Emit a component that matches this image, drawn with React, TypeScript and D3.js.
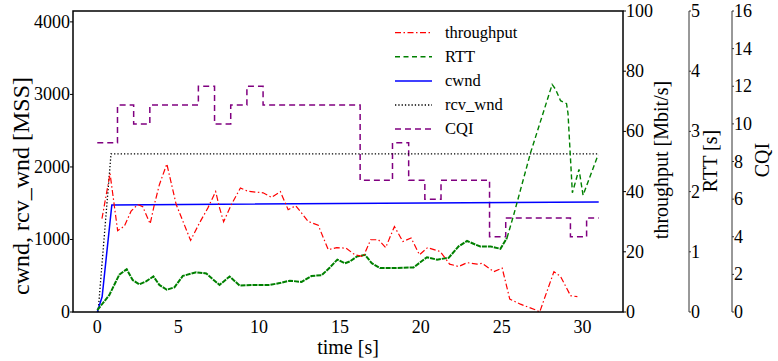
import React from "react";
import * as d3 from "d3";

const timeTicks = [0, 5, 10, 15, 20, 25, 30];
const cwndTicks = [0, 1000, 2000, 3000, 4000];
const tputTicks = [0, 20, 40, 60, 80, 100];
const rttTicks = [0, 1, 2, 3, 4, 5];
const cqiTicks = [0, 2, 4, 6, 8, 10, 12, 14, 16];

const throughput: [number, number][] = [
  [0.29, 31], [0.79, 46], [1.26, 27], [1.67, 28.5], [2.09, 33.5], [2.5, 35.7], [2.81, 35],
  [3.27, 29.3], [3.53, 35.7], [3.84, 42.3], [4.3, 49.2], [4.88, 35.7], [5.77, 23.8], [6.32, 29.6],
  [6.84, 34.6], [7.32, 40], [7.56, 34.6], [7.81, 30], [8.29, 35.7], [8.85, 41.2], [9.32, 40.1],
  [10.25, 39.6], [10.77, 38.1], [11.32, 40], [11.8, 34], [12.27, 35.3], [13.04, 30.1], [13.66, 28.8],
  [14.28, 20.7], [14.8, 21.4], [15.38, 21.2], [15.93, 19], [16.45, 18.4], [16.9, 24], [17.38, 24],
  [17.83, 21.4], [18.37, 28.4], [18.89, 23.4], [19.4, 24.6], [19.92, 19], [20.42, 21.4], [21.2, 20.1],
  [21.78, 15.9], [22.34, 15.1], [22.86, 16.4], [23.48, 15.9], [23.79, 16.2], [24.51, 13.4], [25.03, 14.6],
  [25.5, 4.3], [26.16, 2.6], [27.09, 0.7], [27.35, 0], [28.23, 13.4], [28.64, 11.8], [29.26, 5.4], [29.68, 5.1],
];

const rtt: [number, number][] = [
  [0, 0.03], [0.74, 0.28], [1.36, 0.62], [1.82, 0.71], [2.19, 0.53], [2.6, 0.46], [3.02, 0.51],
  [3.47, 0.59], [3.84, 0.45], [4.3, 0.37], [4.77, 0.41], [5.29, 0.6], [6.12, 0.66], [6.74, 0.64],
  [7.25, 0.52], [7.56, 0.45], [8.18, 0.59], [8.8, 0.44], [9.63, 0.45], [10.66, 0.45], [11.28, 0.48],
  [11.9, 0.52], [12.63, 0.5], [13.25, 0.6], [13.87, 0.61], [14.38, 0.74], [14.84, 0.87], [15.31, 0.81],
  [15.62, 0.84], [16.04, 0.92], [16.55, 0.95], [16.97, 0.81], [17.48, 0.73], [18.31, 0.73], [19.55, 0.74],
  [20.38, 0.91], [21, 0.87], [21.72, 0.9], [22.34, 1.09], [22.86, 1.18], [23.37, 1.12], [23.68, 1.09],
  [24.3, 1.09], [24.92, 1.05], [25.33, 1.23], [25.75, 1.62], [26.78, 2.64], [28.12, 3.78], [28.33, 3.7],
  [28.64, 3.51], [29.01, 3.46], [29.1, 3.3], [29.37, 1.98], [29.78, 2.37], [30.03, 1.94], [30.96, 2.61],
];

const cwnd: [number, number][] = [[0, 0], [0.3, 210], [0.9, 1476], [31, 1517]];
const rcvWnd: [number, number][] = [[0.05, 0], [0.85, 2180], [31, 2180]];

const cqi: [number, number][] = [
  [0, 9], [1.25, 11], [2.25, 10], [3.25, 11], [6.25, 12], [7.25, 10], [8.25, 11], [9.25, 12],
  [10.25, 11], [16.25, 7], [18.25, 9], [19.25, 7], [20.25, 6], [21.25, 7], [24.25, 4], [25.25, 5],
  [29.25, 4], [30.25, 5], [31, 5],
];

const legendItems = [
  { label: "throughput", color: "#ff0000", dash: "6,2.5,1.5,2.5", width: 1.2 },
  { label: "RTT", color: "#008000", dash: "5,3.5", width: 1.4 },
  { label: "cwnd", color: "#0000ff", dash: "", width: 1.5 },
  { label: "rcv_wnd", color: "#000000", dash: "1.3,2", width: 1.3 },
  { label: "CQI", color: "#800080", dash: "6,4", width: 1.5 },
];

const FONT = '"Liberation Serif", "Times New Roman", Times, "DejaVu Serif", serif';

export default function App() {
  const L = 73, R = 623, T = 11, B = 312;
  const x = d3.scaleLinear().domain([-1.5, 32.5]).range([L, R]);
  const yW = d3.scaleLinear().domain([0, 4150]).range([B, T]);
  const yT = d3.scaleLinear().domain([0, 100]).range([B, T]);
  const yR = d3.scaleLinear().domain([0, 5]).range([B, T]);
  const yC = d3.scaleLinear().domain([0, 16]).range([B, T]);

  const mk = (ys: d3.ScaleLinear<number, number>, curve = d3.curveLinear) =>
    d3.line<[number, number]>().x((d) => x(d[0])).y((d) => ys(d[1])).curve(curve);

  const rttAxisX = 689;
  const cqiAxisX = 732;
  const ts = { fontFamily: FONT };
  const split = rtt.findIndex((d) => d[0] > 25);
  const rttDense = rtt.slice(0, split + 1);
  const rttSparse = rtt.slice(split);

  return (
    <svg width={778} height={361} style={{ position: "absolute", left: 0, top: 0, fontFamily: FONT }}>
      <rect width={778} height={361} fill="#fff" />
      {/* data */}
      <path d={mk(yC, d3.curveStepAfter)(cqi) || ""} fill="none" stroke="#800080" strokeWidth={1.5} strokeDasharray="6,4" />
      <path d={mk(yW)(rcvWnd) || ""} fill="none" stroke="#000" strokeWidth={1.3} strokeDasharray="1.3,2" />
      <path d={mk(yW)(cwnd) || ""} fill="none" stroke="#0000ff" strokeWidth={1.5} />
      <path d={mk(yR)(rttDense) || ""} fill="none" stroke="#008000" strokeWidth={2} strokeDasharray="5,1" />
      <path d={mk(yR)(rttSparse) || ""} fill="none" stroke="#008000" strokeWidth={1.4} strokeDasharray="5,3" />
      <path d={mk(yT)(throughput) || ""} fill="none" stroke="#ff0000" strokeWidth={1.2} strokeDasharray="6,2.5,1.5,2.5" />

      {/* frame */}
      <rect x={L} y={T} width={R - L} height={B - T} fill="none" stroke="#000" strokeWidth={1.5} />

      {/* left axis */}
      {cwndTicks.map((v) => (
        <g key={"l" + v}>
          <line x1={L - 3} x2={L} y1={yW(v)} y2={yW(v)} stroke="#000" />
          <text style={ts} x={L - 3} y={yW(v) + 6} fontSize={18} textAnchor="end">{v}</text>
        </g>
      ))}
      <text style={ts} transform={`translate(29,186) rotate(-90)`} fontSize={24} textAnchor="middle">cwnd, rcv_wnd [MSS]</text>

      {/* bottom axis */}
      {timeTicks.map((v) => (
        <text style={ts} key={"b" + v} x={x(v)} y={333} fontSize={18} textAnchor="middle">{v}</text>
      ))}
      <text style={ts} x={(L + R) / 2} y={354} fontSize={20} textAnchor="middle">time [s]</text>

      {/* throughput axis */}
      {tputTicks.map((v) => (
        <g key={"t" + v}>
          <line x1={R} x2={R + 3} y1={yT(v)} y2={yT(v)} stroke="#000" />
          <text style={ts} x={R + 3} y={yT(v) + 6} fontSize={18}>{v}</text>
        </g>
      ))}
      <text style={ts} transform={`translate(668,160) rotate(-90)`} fontSize={20} textAnchor="middle">throughput [Mbit/s]</text>

      {/* RTT axis */}
      <line x1={rttAxisX} x2={rttAxisX} y1={T} y2={B} stroke="#333" strokeWidth={1} />
      {rttTicks.map((v) => (
        <g key={"r" + v}>
          <line x1={rttAxisX} x2={rttAxisX + 2} y1={yR(v)} y2={yR(v)} stroke="#333" />
          <text style={ts} x={rttAxisX + 2} y={yR(v) + 6} fontSize={18}>{v}</text>
        </g>
      ))}
      <text style={ts} transform={`translate(717,161) rotate(-90)`} fontSize={20} textAnchor="middle">RTT [s]</text>

      {/* CQI axis */}
      <line x1={cqiAxisX} x2={cqiAxisX} y1={T} y2={B} stroke="#333" strokeWidth={1} />
      {cqiTicks.map((v) => (
        <g key={"c" + v}>
          <line x1={cqiAxisX} x2={cqiAxisX + 2} y1={yC(v)} y2={yC(v)} stroke="#333" />
          <text style={ts} x={cqiAxisX + 2} y={yC(v) + 6} fontSize={18}>{v}</text>
        </g>
      ))}
      <text style={ts} transform={`translate(769,160) rotate(-90)`} fontSize={20} textAnchor="middle">CQI</text>

      {/* legend */}
      {legendItems.map((it, i) => {
        const yy = 32.7 + i * 24.1;
        return (
          <g key={it.label}>
            <line x1={395} x2={432} y1={yy} y2={yy} stroke={it.color} strokeWidth={it.width} strokeDasharray={it.dash} />
            <text style={ts} x={445} y={yy + 5} fontSize={16.5}>{it.label}</text>
          </g>
        );
      })}
    </svg>
  );
}
